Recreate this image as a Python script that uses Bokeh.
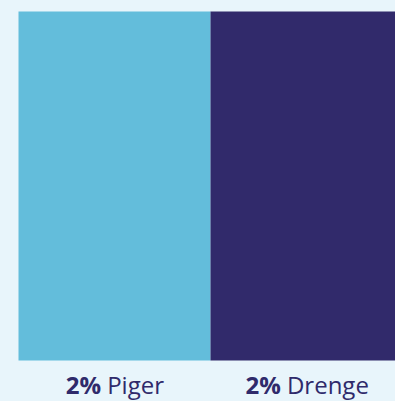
from bokeh.plotting import figure
from bokeh.models import Range1d
from bokeh.core.properties import value
from bokeh.embed import file_html
from bokeh.resources import INLINE

# data
categories = ["Piger", "Drenge"]
values = [2, 2]
pct_labels = ["2%", "2%"]
colors = ["#63bddb", "#312a6b"]

shift = 8  # figure is pulled up-left by the page margin
W, H = 395 + shift, 401 + shift
left_pad, top_pad, bottom_pad = 18 + shift, 11 + shift, 41
bar_px = 192

x0 = -0.5 - left_pad / bar_px
x1 = x0 + W / bar_px
vmax = max(values)
ppu = (H - top_pad - bottom_pad) / vmax
y1 = vmax + top_pad / ppu
y0 = -bottom_pad / ppu

p = figure(width=W, height=H, output_backend="svg", toolbar_location=None,
           x_range=Range1d(x0, x1), y_range=Range1d(y0, y1),
           min_border=0, min_border_left=0, min_border_right=0,
           min_border_top=0, min_border_bottom=0)
p.axis.visible = False
p.grid.visible = False
p.outline_line_color = None
p.background_fill_color = "#e8f5fb"
p.border_fill_color = "#e8f5fb"
p.styles = {"margin-left": "-8px", "margin-top": "-8px"}

xs = list(range(len(categories)))
p.vbar(x=xs, top=values, bottom=0, width=1, fill_color=colors, line_color=None)

# approximate glyph widths (em) to centre the mixed-weight label
EM = {"P": 0.60, "i": 0.25, "g": 0.55, "e": 0.56, "r": 0.38, "D": 0.70, "n": 0.61,
      "2": 0.60, "%": 0.88}

def em_width(s):
    return sum(EM.get(ch, 0.56) for ch in s)

font = "Open Sans"
fs = 24
gap = 6
label_y = -24 / ppu
for i in range(len(xs)):
    bw = em_width(pct_labels[i]) * fs
    nw = em_width(categories[i]) * fs
    split = (bw - nw) / 2
    p.text(x=[xs[i]], y=[label_y], text=[pct_labels[i]], text_font=value(font),
           text_font_style="bold", text_font_size=f"{fs}px", text_color="#2f2a6b",
           text_align="right", text_baseline="alphabetic", x_offset=split - gap / 2)
    p.text(x=[xs[i]], y=[label_y], text=[categories[i]], text_font=value(font),
           text_font_style="normal", text_font_size=f"{fs}px", text_color="#2f2a6b",
           text_align="left", text_baseline="alphabetic", x_offset=split + gap / 2)

open("out.html", "w").write(file_html(p, INLINE))
